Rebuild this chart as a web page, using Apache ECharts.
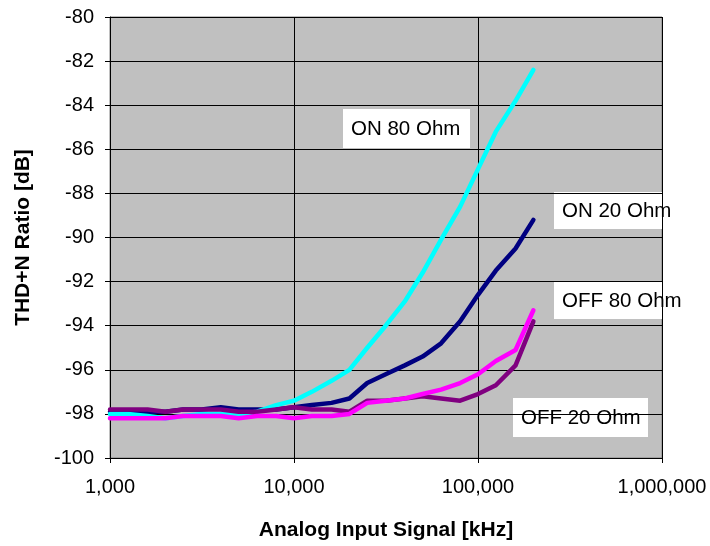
<!DOCTYPE html>
<html>
<head>
<meta charset="utf-8">
<script src="https://cdn.jsdelivr.net/npm/echarts@6/dist/echarts.min.js"></script>
<style>
  html, body { margin: 0; padding: 0; background: #fff; }
  #chart-container { width: 710px; height: 546px; }
</style>
</head>
<body>
<div id="chart-container"></div>
<script>
// frequencies (x axis, log)
const freqs = [1000, 1250, 1600, 2000, 2500, 3150, 4000, 5000, 6300, 8000, 10000, 12500,
  16000, 20000, 25000, 31500, 40000, 50000, 63000, 80000, 100000, 125000, 160000, 200000];

const on80 = [-98.0, -98.0, -98.1, -98.2, -98.1, -98.0, -98.0, -98.0, -97.9, -97.6, -97.4, -97.0,
  -96.5, -96.0, -95.0, -94.0, -92.9, -91.6, -90.1, -88.6, -86.9, -85.2, -83.8, -82.4];
const on20 = [-97.9, -97.9, -97.9, -97.9, -97.8, -97.8, -97.7, -97.8, -97.8, -97.8, -97.7, -97.6,
  -97.5, -97.3, -96.6, -96.2, -95.8, -95.4, -94.8, -93.8, -92.6, -91.5, -90.5, -89.2];
const off80 = [-98.2, -98.2, -98.2, -98.2, -98.1, -98.1, -98.1, -98.2, -98.1, -98.1, -98.2, -98.1,
  -98.1, -98.0, -97.5, -97.4, -97.3, -97.1, -96.9, -96.6, -96.2, -95.6, -95.1, -93.3];
const off20 = [-97.8, -97.8, -97.8, -97.9, -97.8, -97.8, -97.8, -97.9, -97.9, -97.8, -97.7, -97.8,
  -97.8, -97.9, -97.4, -97.4, -97.3, -97.2, -97.3, -97.4, -97.1, -96.7, -95.8, -93.8];

const seriesNames = ['ON 80 Ohm', 'ON 20 Ohm', 'OFF 80 Ohm', 'OFF 20 Ohm'];
const seriesColors = ['#00ffff', '#000080', '#ff00ff', '#800080'];

const font = 'Liberation Sans, Arial, sans-serif';

function pairs(ys) {
  return freqs.map(function (f, i) { return [f, ys[i]]; });
}

function makeLine(name, ys, color, z) {
  return {
    name: name,
    type: 'line',
    data: pairs(ys),
    showSymbol: false,
    z: z,
    lineStyle: { color: color, width: 4.5, cap: 'round', join: 'round' },
    itemStyle: { color: color }
  };
}

// white label boxes next to each curve
function labelBox(text, x, y, w, h) {
  return {
    type: 'group',
    left: x,
    top: y,
    z: 10,
    children: [
      { type: 'rect', shape: { x: 0, y: 0, width: w, height: h }, style: { fill: '#ffffff' } },
      {
        type: 'text', x: 8, y: h / 2 + 1,
        style: { text: text, font: '20.5px ' + font, fill: '#000', verticalAlign: 'middle' }
      }
    ]
  };
}

const chart = echarts.init(document.getElementById('chart-container'));

const option = {
  animation: false,
  backgroundColor: '#ffffff',
  grid: {
    left: 110, right: 48, top: 17, bottom: 87,
    show: true,
    backgroundColor: '#c0c0c0',
    borderColor: '#808080',
    borderWidth: 1
  },
  xAxis: {
    type: 'log',
    logBase: 10,
    min: 1000,
    max: 1000000,
    name: 'Analog Input Signal [kHz]',
    nameLocation: 'middle',
    nameGap: 62,
    nameTextStyle: { fontFamily: font, fontSize: 21, fontWeight: 'bold', color: '#000' },
    axisLine: { show: true, lineStyle: { color: '#000', width: 1 } },
    axisTick: { show: true, length: 5, lineStyle: { color: '#000' } },
    axisLabel: {
      fontFamily: font, fontSize: 20, color: '#000', margin: 19,
      formatter: function (v) { return Math.round(v).toLocaleString('en-US'); }
    },
    splitLine: { show: true, lineStyle: { color: '#000', width: 1 } },
    minorTick: { show: false },
    minorSplitLine: { show: false }
  },
  yAxis: {
    type: 'value',
    min: -100,
    max: -80,
    interval: 2,
    name: 'THD+N Ratio [dB]',
    nameLocation: 'middle',
    nameGap: 76,
    nameTextStyle: { fontFamily: font, fontSize: 21, fontWeight: 'bold', color: '#000' },
    axisLine: { show: true, lineStyle: { color: '#000', width: 1 } },
    axisTick: { show: true, length: 5, lineStyle: { color: '#000' } },
    axisLabel: { fontFamily: font, fontSize: 20, color: '#000', margin: 16 },
    splitLine: { show: true, lineStyle: { color: '#000', width: 1 } }
  },
  series: [
    makeLine(seriesNames[1], on20, seriesColors[1], 2),
    makeLine(seriesNames[0], on80, seriesColors[0], 3),
    makeLine(seriesNames[3], off20, seriesColors[3], 4),
    makeLine(seriesNames[2], off80, seriesColors[2], 5)
  ],
  graphic: [
    labelBox(seriesNames[0], 343, 109, 127, 39),
    labelBox(seriesNames[1], 554, 192, 140, 37),
    labelBox(seriesNames[2], 554, 282, 150, 37),
    labelBox(seriesNames[3], 513, 398, 135, 39)
  ]
};

chart.setOption(option);
</script>
</body>
</html>
